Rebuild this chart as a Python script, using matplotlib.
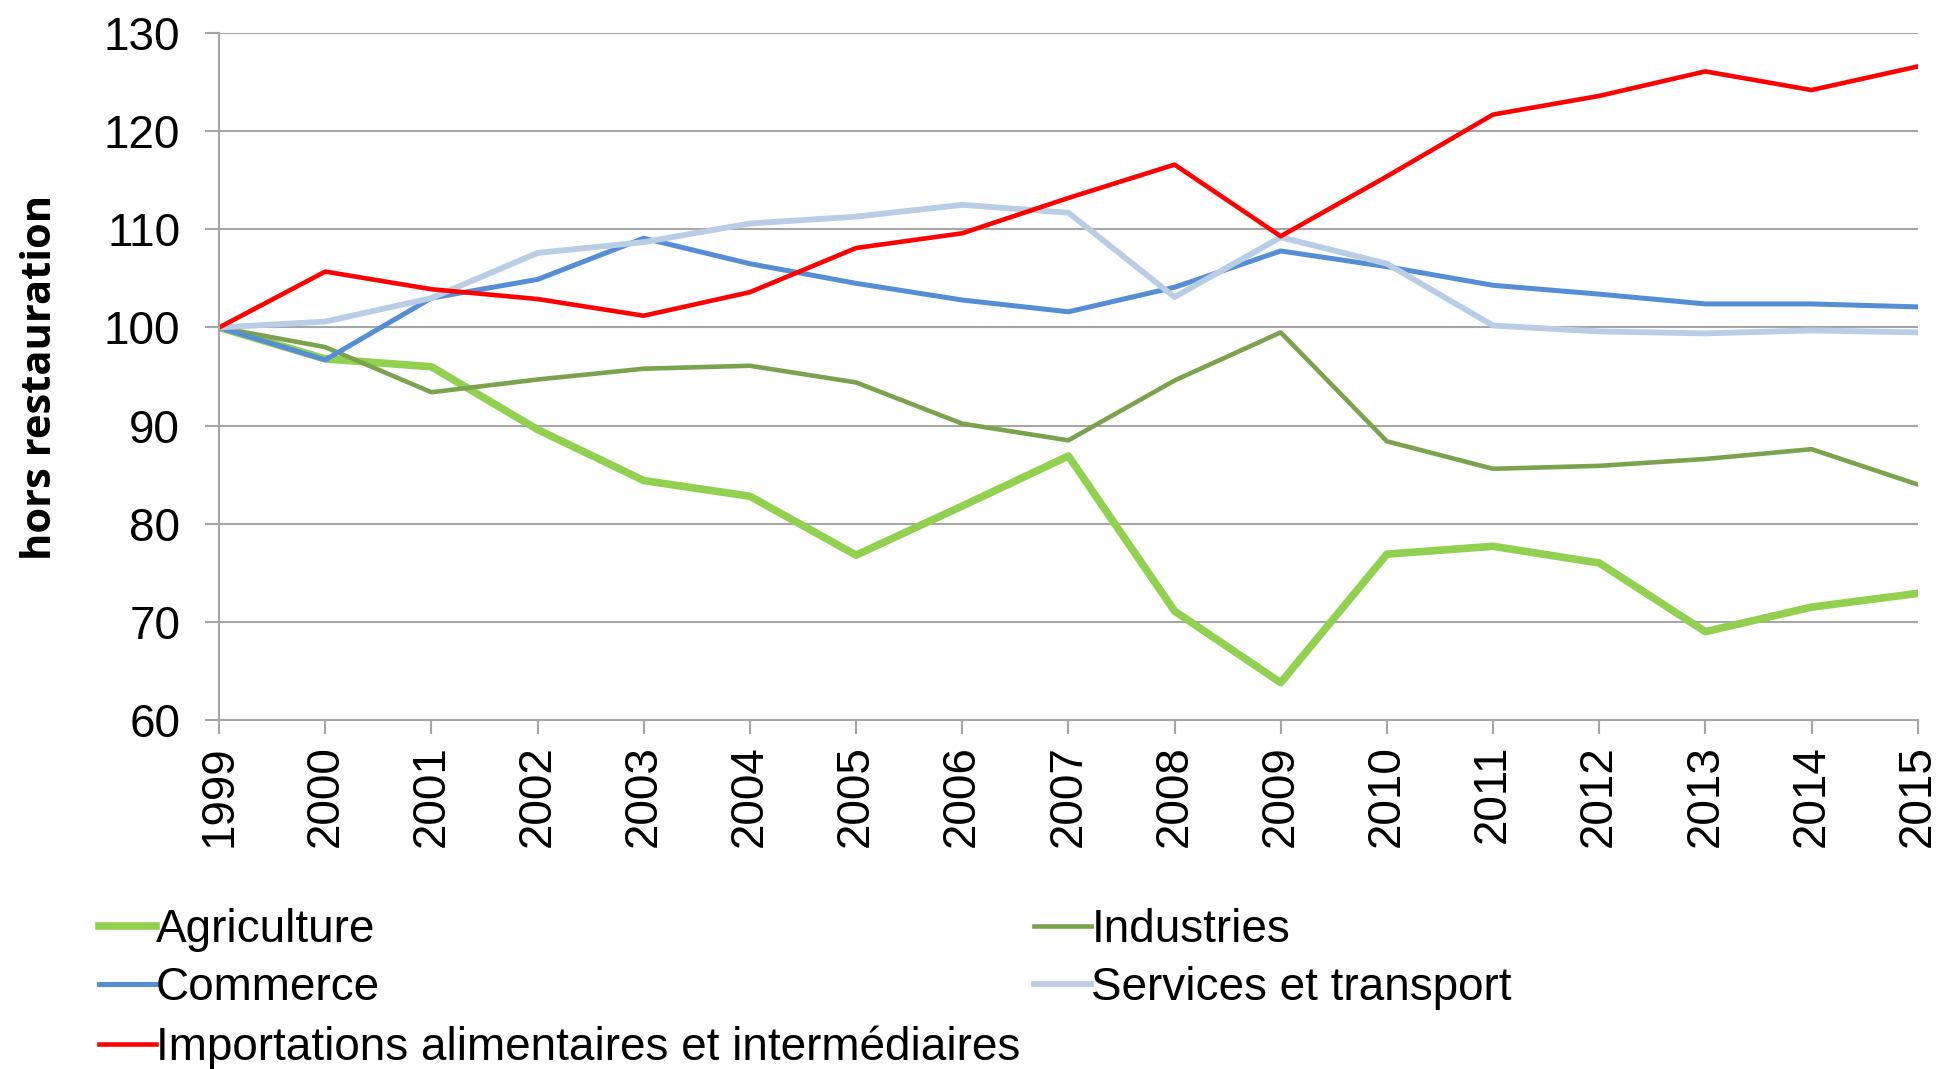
import numpy as np
import matplotlib.pyplot as plt

years = list(range(1999, 2016))

agriculture = [100, 96.8, 96.0, 89.6, 84.4, 82.8, 76.8, 81.8, 86.9, 71.1, 63.8, 76.9, 77.7, 76.0, 69.0, 71.5, 72.9]
industries = [100, 98.0, 93.4, 94.7, 95.8, 96.1, 94.4, 90.2, 88.5, 94.6, 99.5, 88.4, 85.6, 85.9, 86.6, 87.6, 84.0]
commerce = [100, 96.7, 103.0, 104.9, 109.1, 106.5, 104.5, 102.8, 101.6, 104.1, 107.8, 106.2, 104.3, 103.4, 102.4, 102.4, 102.1]
services = [100, 100.6, 103.0, 107.6, 108.7, 110.6, 111.3, 112.5, 111.7, 103.1, 109.2, 106.5, 100.2, 99.6, 99.4, 99.7, 99.5]
importations = [100, 105.7, 103.9, 102.9, 101.2, 103.6, 108.1, 109.6, 113.2, 116.6, 109.3, 115.4, 121.7, 123.6, 126.1, 124.2, 126.6]

labels = ['Agriculture', 'Industries', 'Commerce', 'Services et transport',
          'Importations alimentaires et intermédiaires']

plt.rcParams['font.family'] = ['Liberation Sans', 'DejaVu Sans']

fig = plt.figure(figsize=(19.39, 10.69), dpi=100)
ax = fig.add_axes([0.113, 0.3265, 0.876, 0.6425])

grid_col = '#A6A6A6'
for y in range(60, 131, 10):
    ax.axhline(y, color=grid_col, lw=1.5, zorder=0)

l_agri, = ax.plot(years, agriculture, color='#92D050', lw=5.5, label=labels[0])
l_ind, = ax.plot(years, industries, color='#7BA34D', lw=3.3, label=labels[1])
l_com, = ax.plot(years, commerce, color='#558ED5', lw=3.6, label=labels[2])
l_ser, = ax.plot(years, services, color='#B9CDE5', lw=4.2, label=labels[3])
l_imp, = ax.plot(years, importations, color='#FF0000', lw=3.3, label=labels[4])

ax.set_xlim(1999, 2015)
ax.set_ylim(60, 130)
ax.set_xticks(years)
ax.set_xticklabels([str(y) for y in years], rotation=90, fontsize=33)
ax.set_yticks(range(60, 131, 10))
ax.tick_params(axis='y', labelsize=33, length=10, width=1.5, color=grid_col, pad=18)
ax.tick_params(axis='x', length=10, width=1.5, color=grid_col, pad=8)

for s in ['top', 'right']:
    ax.spines[s].set_visible(False)
for s in ['left', 'bottom']:
    ax.spines[s].set_color(grid_col)
    ax.spines[s].set_linewidth(1.5)

fig.text(0.021, 0.647, 'hors restauration', rotation=90, fontsize=30,
         fontweight='bold', family=['Open Sans', 'DejaVu Sans'],
         ha='center', va='center')

handles = [l_agri, l_com, l_imp, l_ind, l_ser]
fig.legend(handles, [h.get_label() for h in handles], ncol=2,
           loc='upper left', bbox_to_anchor=(0.0415, 0.168), frameon=False,
           fontsize=33, handlelength=1.25, handletextpad=0.0,
           columnspacing=0.3, labelspacing=0.32, borderaxespad=0)

fig.savefig('out.png', dpi=100)
